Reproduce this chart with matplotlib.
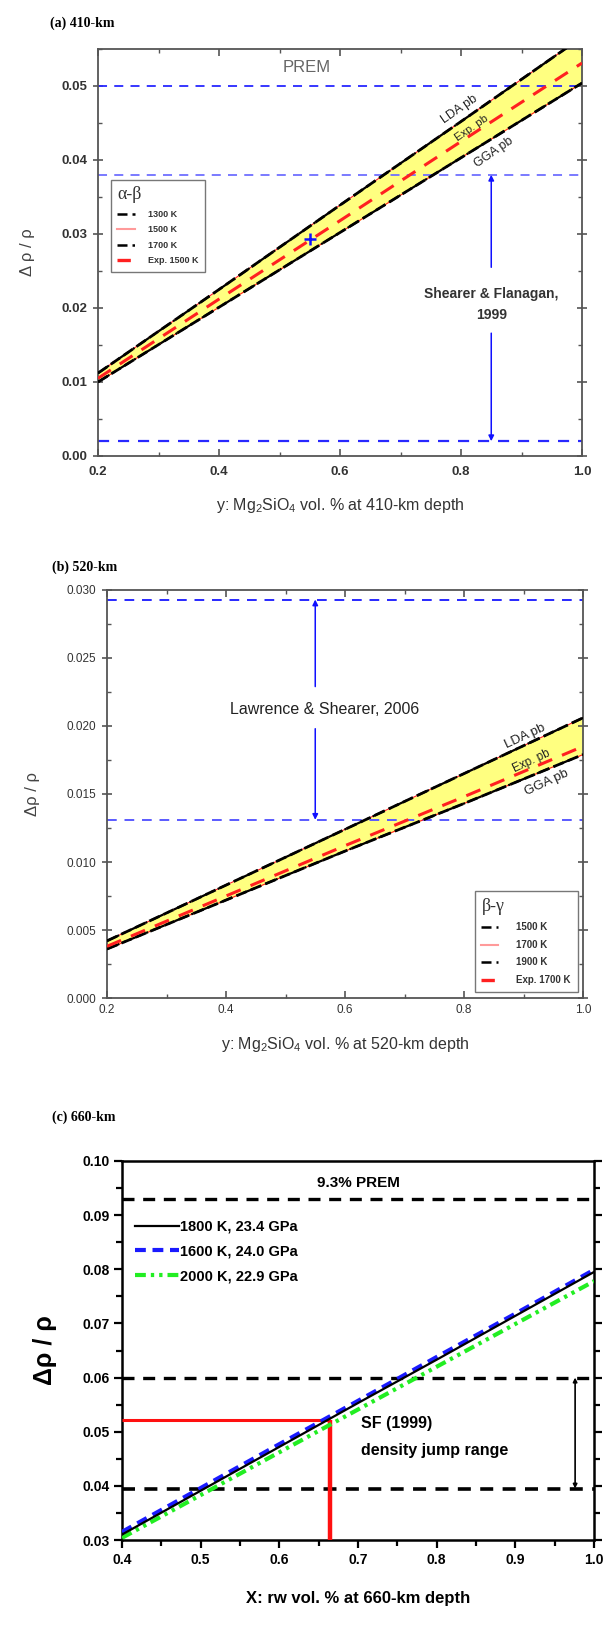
import matplotlib
matplotlib.use("Agg")
import matplotlib.pyplot as plt
from matplotlib.ticker import MultipleLocator, FormatStrFormatter
from matplotlib.lines import Line2D

plt.rcParams['font.family'] = ['Liberation Sans', 'DejaVu Sans']
plt.rcParams['mathtext.fontset'] = 'custom'
plt.rcParams['mathtext.rm'] = 'Liberation Sans'

# ---------------- data ----------------
# (a) 410-km, alpha-beta transition
y410 = [0.2, 0.4, 0.6, 0.8, 1.0]
lda410 = [0.0112, 0.0225, 0.0339, 0.0452, 0.0566]
exp410 = [0.0105, 0.0212, 0.0318, 0.0425, 0.0531]
gga410 = [0.0100, 0.0201, 0.0302, 0.0403, 0.0504]
prem410 = 0.050
sf410 = [0.038, 0.002]
obs410 = (0.55, 0.0293)
temps410 = ['1300 K', '1500 K', '1700 K', 'Exp. 1500 K']

# (b) 520-km, beta-gamma transition
y520 = [0.2, 0.4, 0.6, 0.8, 1.0]
lda520 = [0.0042, 0.0083, 0.0124, 0.0165, 0.0206]
exp520 = [0.0038, 0.0075, 0.0112, 0.0148, 0.0185]
gga520 = [0.0036, 0.0072, 0.0108, 0.0143, 0.0179]
ls520 = [0.0293, 0.0131]
temps520 = ['1500 K', '1700 K', '1900 K', 'Exp. 1700 K']

# (c) 660-km, post-spinel transition
x660 = [0.4, 0.5, 0.6, 0.7, 0.8, 0.9, 1.0]
k1800 = [0.0310, 0.0391, 0.0472, 0.0553, 0.0633, 0.0714, 0.0795]
k1600 = [0.0315, 0.0396, 0.0477, 0.0557, 0.0638, 0.0718, 0.0799]
k2000 = [0.0304, 0.0383, 0.0462, 0.0541, 0.0620, 0.0699, 0.0778]
labels660 = ['1800 K, 23.4 GPa', '1600 K, 24.0 GPa', '2000 K, 22.9 GPa']
prem660 = 0.093
sf660 = [0.060, 0.0395]
rw_pick = (0.665, 0.0522)

W, H = 605, 1627
fig = plt.figure(figsize=(W / 100, H / 100), dpi=100)


def axes_px(left, top, right, bottom):
    return fig.add_axes([left / W, 1 - bottom / H, (right - left) / W, (bottom - top) / H])


PINK = '#ff9a9a'
YELLOW = '#ffff80'
BAND_RED = '#ff2020'


def band(ax, x, lo, mid, hi):
    ax.fill_between(x, lo, hi, color=YELLOW, lw=0, zorder=1)
    for edge in (lo, hi):
        ax.plot(x, edge, color=BAND_RED, lw=0.8, zorder=2)
        ax.plot(x, edge, color='black', lw=2.0, dashes=(4, 1.6), zorder=3)
        ax.plot(x, edge, color='black', lw=1.6, dashes=(6, 2, 1, 2), zorder=3)
    ax.plot(x, mid, color=BAND_RED, lw=2.2, dashes=(5, 3.5), zorder=4)


def band_legend(ax, title, labels, size, spacing, hlen, hpad, weight, **kw):
    handles = [
        Line2D([], [], color='black', lw=1.8, dashes=(4, 2)),
        Line2D([], [], color=PINK, lw=1.5),
        Line2D([], [], color='black', lw=1.8, dashes=(4, 2, 1, 2)),
        Line2D([], [], color=BAND_RED, lw=2.4, dashes=(4, 2.5)),
    ]
    leg = ax.legend(handles, labels, title=title, fancybox=False, edgecolor='#555555',
                    handlelength=hlen, handletextpad=hpad, labelspacing=spacing,
                    borderpad=0.7, borderaxespad=0, alignment='left',
                    prop={'size': size, 'weight': weight}, **kw)
    leg.get_title().set_fontfamily(['Liberation Serif', 'DejaVu Serif'])
    leg.get_title().set_fontsize(13)
    leg.get_title().set_color('#333333')
    for t in leg.get_texts():
        t.set_color('#333333')
    leg.get_frame().set_linewidth(1.0)
    return leg


def style_ab(ax, bold):
    for s in ax.spines.values():
        s.set_color('#555555')
        s.set_linewidth(1.3)
    ax.xaxis.set_major_locator(MultipleLocator(0.2))
    ax.xaxis.set_minor_locator(MultipleLocator(0.1))
    ax.tick_params(which='both', top=True, right=True, colors='#555555')
    ax.tick_params(axis='x', which='major', direction='in', length=5, width=1.2)
    ax.tick_params(axis='x', which='minor', direction='in', length=3, width=1.0)
    ax.tick_params(axis='y', which='major', direction='inout', length=7, width=1.2)
    ax.tick_params(axis='y', which='minor', direction='in', length=3, width=1.0)
    for lab in ax.get_xticklabels() + ax.get_yticklabels():
        lab.set_color('#333333')
        if bold:
            lab.set_fontweight('bold')


def panel_title(text, x, y):
    fig.text(x / W, 1 - y / H, text, fontsize=10, fontweight='bold',
             family=['Liberation Serif', 'DejaVu Serif'], va='center', ha='left')


# ---------------- (a) 410-km ----------------
ax = axes_px(98, 49, 582, 456)
ax.set_xlim(0.2, 1.0)
ax.set_ylim(0.0, 0.055)
ax.yaxis.set_major_locator(MultipleLocator(0.01))
ax.yaxis.set_minor_locator(MultipleLocator(0.005))
ax.yaxis.set_major_formatter(FormatStrFormatter('%.2f'))
ax.xaxis.set_major_formatter(FormatStrFormatter('%.1f'))
ax.tick_params(axis='y', labelsize=9.5, pad=4)
ax.tick_params(axis='x', labelsize=9.5, pad=7.5)
style_ab(ax, bold=True)

ax.axhline(prem410, color='#2828ff', lw=1.3, dashes=(5, 4), zorder=2)
ax.axhline(sf410[0], color='#7070ff', lw=1.3, dashes=(5, 4), zorder=2)
ax.axhline(sf410[1], color='#2828ff', lw=1.6, dashes=(5, 4), zorder=2)
band(ax, y410, gga410, exp410, lda410)
ax.plot(*obs410, marker='+', color='#1010ff', ms=8, mew=1.8, zorder=5)

ax.text(0.545, 0.0525, 'PREM', fontsize=12, color='#666666', ha='center', va='center')
ax.text(0.85, 0.0205, 'Shearer & Flanagan,\n1999', fontsize=10, fontweight='bold',
        color='#333333', ha='center', va='center', linespacing=1.6)
ax.annotate('', xy=(0.85, sf410[0]), xytext=(0.85, 0.0255),
            arrowprops=dict(arrowstyle='-|>', color='#1010ff', lw=1.1, mutation_scale=8,
                            shrinkA=0, shrinkB=0))
ax.annotate('', xy=(0.85, sf410[1]), xytext=(0.85, 0.0166),
            arrowprops=dict(arrowstyle='-|>', color='#1010ff', lw=1.1, mutation_scale=8,
                            shrinkA=0, shrinkB=0))
rot_a = 34.7
ax.text(0.797, 0.0468, 'LDA pb', fontsize=9, rotation=rot_a, ha='center', va='center', color='#222222')
ax.text(0.817, 0.0443, 'Exp. pb', fontsize=8, rotation=rot_a, ha='center', va='center', color='#222222')
ax.text(0.855, 0.0410, 'GGA pb', fontsize=9, rotation=rot_a, ha='center', va='center', color='#222222')

band_legend(ax, 'α-β', temps410, 6.5, 0.72, 1.9, 1.5, 'bold',
            loc='upper left', bbox_to_anchor=(0.027, 0.678))

ax.set_ylabel('Δ ρ / ρ', fontsize=12, color='#444444', labelpad=19)
ax.set_xlabel('y: Mg$_2$SiO$_4$ vol. % at 410-km depth', fontsize=11.5, color='#333333',
              labelpad=13)
panel_title('(a) 410-km', 50, 23)

# ---------------- (b) 520-km ----------------
ax = axes_px(107, 590, 583, 998)
ax.set_xlim(0.2, 1.0)
ax.set_ylim(0.0, 0.030)
ax.yaxis.set_major_locator(MultipleLocator(0.005))
ax.yaxis.set_minor_locator(MultipleLocator(0.0025))
ax.yaxis.set_major_formatter(FormatStrFormatter('%.3f'))
ax.xaxis.set_major_formatter(FormatStrFormatter('%.1f'))
ax.tick_params(labelsize=8.5, pad=4)
style_ab(ax, bold=False)

ax.axhline(ls520[0], color='#2828ff', lw=1.4, dashes=(5, 4), zorder=2)
ax.axhline(ls520[1], color='#5a5aff', lw=1.4, dashes=(5, 4), zorder=2)
band(ax, y520, gga520, exp520, lda520)
ax.text(0.565, 0.0212, 'Lawrence & Shearer, 2006', fontsize=11.5, color='#222222',
        ha='center', va='center')
ax.annotate('', xy=(0.55, ls520[0]), xytext=(0.55, 0.0229),
            arrowprops=dict(arrowstyle='-|>', color='#1010ff', lw=1.1, mutation_scale=8,
                            shrinkA=0, shrinkB=0))
ax.annotate('', xy=(0.55, ls520[1]), xytext=(0.55, 0.0198),
            arrowprops=dict(arrowstyle='-|>', color='#1010ff', lw=1.1, mutation_scale=8,
                            shrinkA=0, shrinkB=0))
rot_b = 25.0
ax.text(0.902, 0.0192, 'LDA pb', fontsize=9.5, rotation=rot_b, ha='center', va='center', color='#222222')
ax.text(0.914, 0.0174, 'Exp. pb', fontsize=8.5, rotation=rot_b, ha='center', va='center', color='#222222')
ax.text(0.939, 0.0158, 'GGA pb', fontsize=9.5, rotation=rot_b, ha='center', va='center', color='#222222')

band_legend(ax, 'β-γ', temps520, 7, 0.78, 1.75, 1.85, 'semibold',
            loc='lower right', bbox_to_anchor=(0.989, 0.015))

ax.set_ylabel('Δρ / ρ', fontsize=12, color='#444444', labelpad=19)
ax.set_xlabel('y: Mg$_2$SiO$_4$ vol. % at 520-km depth', fontsize=11.5, color='#333333',
              labelpad=14)
panel_title('(b) 520-km', 52, 567)

# ---------------- (c) 660-km ----------------
ax = axes_px(122, 1161, 594, 1540)
ax.set_xlim(0.4, 1.0)
ax.set_ylim(0.03, 0.10)
ax.xaxis.set_major_locator(MultipleLocator(0.1))
ax.xaxis.set_minor_locator(MultipleLocator(0.05))
ax.yaxis.set_major_locator(MultipleLocator(0.01))
ax.yaxis.set_minor_locator(MultipleLocator(0.005))
ax.yaxis.set_major_formatter(FormatStrFormatter('%.2f'))
ax.xaxis.set_major_formatter(FormatStrFormatter('%.1f'))
for s in ax.spines.values():
    s.set_linewidth(1.8)
ax.tick_params(which='both', direction='out', right=True, top=False, width=1.6)
ax.tick_params(which='major', length=6, labelsize=10, pad=3)
ax.tick_params(which='minor', length=4)
for lab in ax.get_xticklabels() + ax.get_yticklabels():
    lab.set_fontweight('heavy')

ax.axhline(prem660, color='black', lw=2.4, dashes=(3.6, 2.6), zorder=2)
ax.axhline(sf660[0], color='black', lw=2.4, dashes=(3.6, 2.6), zorder=2)
ax.axhline(sf660[1], color='black', lw=2.6, dashes=(3.6, 2.6), zorder=2)
ax.plot([0.4, rw_pick[0]], [rw_pick[1], rw_pick[1]], color='#ff1010', lw=2.2, zorder=3,
        solid_capstyle='butt')
ax.plot([rw_pick[0], rw_pick[0]], [0.03, rw_pick[1]], color='#ff1010', lw=3.2, zorder=3,
        solid_capstyle='butt')

l2, = ax.plot(x660, k1600, color='#1a1aff', lw=3.0, dashes=(2.6, 1.6), zorder=4)
l3, = ax.plot(x660, k2000, color='#22ee22', lw=3.0, dashes=(2.6, 1.2, 0.8, 1.2, 0.8, 1.2), zorder=4)
l1, = ax.plot(x660, k1800, color='black', lw=1.6, zorder=5)
ax.legend([l1, l2, l3], labels660, loc='upper left', bbox_to_anchor=(0.0, 0.88),
          frameon=False, handlelength=3.0, handletextpad=0.1, labelspacing=0.75,
          prop={'size': 10.5, 'weight': 'heavy'})

ax.text(0.7, 0.0960, '9.3% PREM', fontsize=11, fontweight='heavy', ha='center', va='center')
ax.text(0.704, 0.0516, 'SF (1999)', fontsize=11.5, fontweight='heavy', ha='left', va='center')
ax.text(0.704, 0.0466, 'density jump range', fontsize=11.5, fontweight='heavy', ha='left',
        va='center')
ax.annotate('', xy=(0.976, sf660[0]), xytext=(0.976, sf660[1]),
            arrowprops=dict(arrowstyle='<|-|>', color='black', lw=1.2, mutation_scale=6,
                            shrinkA=0, shrinkB=0))

ax.set_ylabel('Δρ / ρ', fontsize=18, fontweight='bold', labelpad=18)
ax.set_xlabel('X: rw vol. % at 660-km depth', fontsize=12, fontweight='heavy', labelpad=18)
panel_title('(c) 660-km', 52, 1117)

fig.savefig('out.png', dpi=100, facecolor='white')
